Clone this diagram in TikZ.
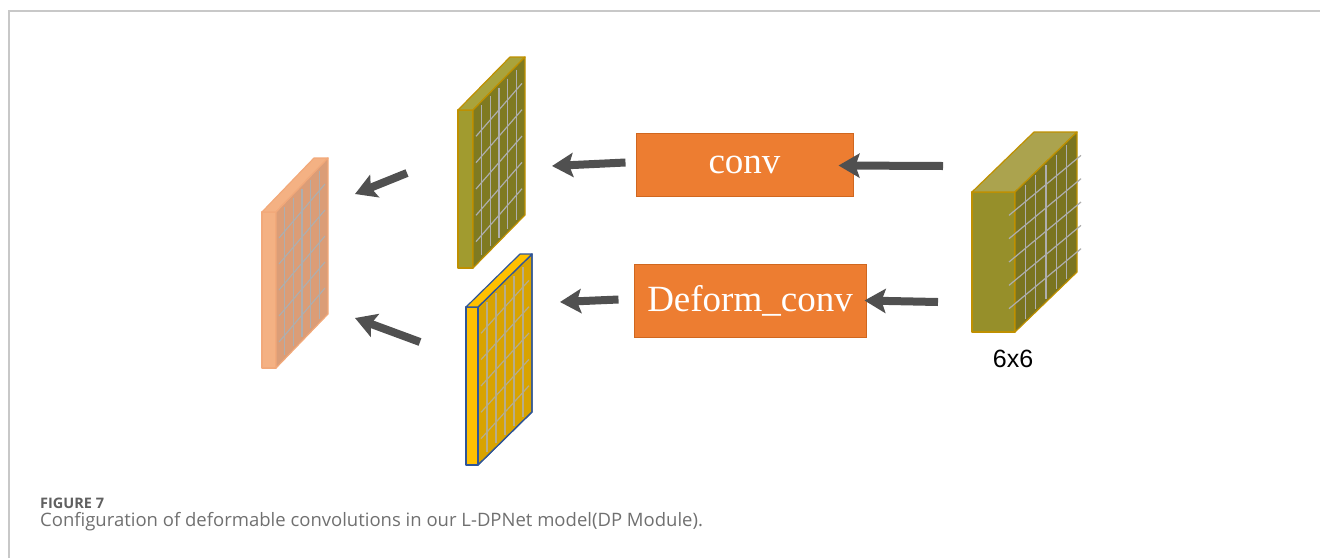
\documentclass[tikz,border=0pt]{standalone}
\usepackage{fontspec}
\setmainfont{Liberation Serif}
\newfontfamily\arialfont{Liberation Sans}
\newfontfamily\capfont{Open Sans}
\usetikzlibrary{arrows.meta,calc}
\definecolor{framegray}{HTML}{C8C8C8}
\definecolor{arrowgray}{HTML}{505050}
\definecolor{boxorange}{HTML}{ED7D31}
\definecolor{boxborder}{HTML}{D0671F}
\definecolor{gridgray}{HTML}{AEAEAE}
\definecolor{pinkstrip}{HTML}{F4B183}
\definecolor{pinkface}{HTML}{DB9D77}
\definecolor{pinkedge}{HTML}{F2A97A}
\definecolor{olstrip}{HTML}{A19B2F}
\definecolor{oltop}{HTML}{A9A33C}
\definecolor{olface}{HTML}{7F7A21}
\definecolor{goldedge}{HTML}{BF9000}
\definecolor{yelstrip}{HTML}{FFC000}
\definecolor{yelface}{HTML}{D8A300}
\definecolor{blueedge}{HTML}{2F5597}
\definecolor{blkfront}{HTML}{968F2A}
\definecolor{blktop}{HTML}{ABA34E}
\definecolor{blkface}{HTML}{7A7420}
\definecolor{capgray}{HTML}{606060}
\definecolor{capgray2}{HTML}{707070}
\tikzset{
  framestyle/.style={draw=framegray,line width=1.5pt},
  bigarrow/.style={draw=arrowgray,line width=8pt,-{Stealth[length=21pt,width=24pt,inset=4pt]}},
  opbox/.style={draw=boxborder,line width=1pt,fill=boxorange,text=white,inner sep=0pt,font=\fontsize{37}{40}\selectfont},
  gridline/.style={draw=gridgray,line width=1.2pt},
  slabedge/.style={line width=1.2pt,line join=round}
}
\begin{document}
\begin{tikzpicture}[x=1pt,y=-1pt]
\useasboundingbox (0,0) rectangle (1320,558);
% frame
\coordinate (f1) at (9,558);
\coordinate (f2) at (9,11);
\coordinate (f3) at (1320,11);
\draw[framestyle] (f1) -- (f2) -- (f3);

% ---------- pink slab ----------
\coordinate (pS1) at (262,212);
\coordinate (pA) at (276,212);
\coordinate (pB) at (328,158);
\coordinate (pC) at (328,314);
\coordinate (pD) at (276,368);
\coordinate (pS2) at (262,368);
\coordinate (pT) at (314,158);
\draw[slabedge,draw=pinkedge,fill=pinkstrip] (pS1) -- (pA) -- (pD) -- (pS2) -- cycle;
\draw[slabedge,draw=pinkedge,fill=pinkstrip] (pS1) -- (pT) -- (pB) -- (pA) -- cycle;
\draw[slabedge,draw=pinkedge,fill=pinkface] (pA) -- (pB) -- (pC) -- (pD) -- cycle;
\foreach \i in {1,...,5}{
  \draw[gridline] ($(pA)!\i/6!(pB)+(0,4)$) -- ($(pD)!\i/6!(pC)+(0,-4)$);
  \draw[gridline] ($(pA)!\i/6!(pD)+(3,0)$) -- ($(pB)!\i/6!(pC)+(-3,0)$);
}

% ---------- olive slab (top) ----------
\coordinate (oS1) at (458,110);
\coordinate (oA) at (473,110);
\coordinate (oB) at (525,57);
\coordinate (oC) at (525,215);
\coordinate (oD) at (473,268);
\coordinate (oS2) at (458,268);
\coordinate (oT) at (510,57);
\draw[slabedge,draw=goldedge,fill=olstrip] (oS1) -- (oA) -- (oD) -- (oS2) -- cycle;
\draw[slabedge,draw=goldedge,fill=oltop] (oS1) -- (oT) -- (oB) -- (oA) -- cycle;
\draw[slabedge,draw=goldedge,fill=olface] (oA) -- (oB) -- (oC) -- (oD) -- cycle;
\foreach \i in {1,...,5}{
  \draw[gridline] ($(oA)!\i/6!(oB)+(0,4)$) -- ($(oD)!\i/6!(oC)+(0,-4)$);
  \draw[gridline] ($(oA)!\i/6!(oD)+(3,0)$) -- ($(oB)!\i/6!(oC)+(-3,0)$);
}

% ---------- yellow slab ----------
\coordinate (yS1) at (466,307);
\coordinate (yA) at (478,307);
\coordinate (yB) at (532,254);
\coordinate (yC) at (532,412);
\coordinate (yD) at (478,465);
\coordinate (yS2) at (466,465);
\coordinate (yT) at (520,254);
\draw[slabedge,draw=blueedge,fill=yelface] (yA) -- (yB) -- (yC) -- (yD) -- cycle;
\foreach \i in {1,...,5}{
  \draw[gridline,draw=gridgray!80!yelface] ($(yA)!\i/6!(yB)+(0,4)$) -- ($(yD)!\i/6!(yC)+(0,-4)$);
  \draw[gridline,draw=gridgray!80!yelface] ($(yA)!\i/6!(yD)+(3,0)$) -- ($(yB)!\i/6!(yC)+(-3,0)$);
}
\draw[slabedge,draw=blueedge] (yA) -- (yB) -- (yC) -- (yD) -- cycle;
\draw[slabedge,draw=blueedge,fill=yelstrip] (yS1) -- (yA) -- (yD) -- (yS2) -- cycle;
\draw[slabedge,draw=blueedge,fill=yelstrip] (yS1) -- (yT) -- (yB) -- (yA) -- cycle;

% ---------- input block ----------
\coordinate (bF1) at (972,192);
\coordinate (bA) at (1015,192);
\coordinate (bB) at (1077,132);
\coordinate (bC) at (1077,272);
\coordinate (bD) at (1015,332);
\coordinate (bF2) at (972,332);
\coordinate (bT) at (1034,132);
\draw[slabedge,draw=goldedge,fill=blkfront] (bF1) -- (bA) -- (bD) -- (bF2) -- cycle;
\draw[slabedge,draw=goldedge,fill=blktop] (bF1) -- (bT) -- (bB) -- (bA) -- cycle;
\draw[slabedge,draw=goldedge,fill=blkface] (bA) -- (bB) -- (bC) -- (bD) -- cycle;
\foreach \i in {1,...,5}{
  \draw[gridline] ($(bA)!\i/6!(bB)+(0,3)$) -- ($(bD)!\i/6!(bC)+(0,-3)$);
  \draw[gridline] ($(bA)!\i/6!(bD)+(-6,0)$) -- ($(bB)!\i/6!(bC)+(4,0)$);
}
\node[font=\arialfont\fontsize{25}{27}\selectfont,anchor=base] (size) at (1013,367) {6x6};

% ---------- operation boxes ----------
\node[opbox,minimum width=217pt,minimum height=63pt] (conv) at (744.5,164.5) {conv};
\node[opbox,minimum width=232pt,minimum height=73pt] (dconv) at (750,300.5) {Deform\_conv};

% ---------- arrows ----------
\coordinate (a1s) at (943,166);
\coordinate (a2s) at (938,302);
\coordinate (a3e) at (552,166);
\coordinate (a4e) at (560,302);
\coordinate (a5s) at (407,173);
\coordinate (a5e) at (355,194);
\coordinate (a6s) at (420,342);
\coordinate (a6e) at (355,318);
\draw[bigarrow] (a1s) -- ([xshift=-15pt,yshift=-1pt]conv.east);
\draw[bigarrow] (a2s) -- ([xshift=-2pt]dconv.east);
\draw[bigarrow] ([xshift=-10pt,yshift=2pt]conv.west) -- (a3e);
\draw[bigarrow] ([xshift=-15pt,yshift=1pt]dconv.west) -- (a4e);
\draw[bigarrow] (a5s) -- (a5e);
\draw[bigarrow] (a6s) -- (a6e);

% ---------- caption ----------
\node[anchor=base west,inner sep=0pt,text=capgray,font=\capfont\bfseries\fontsize{14.5}{16}\selectfont] (fig) at (40,508) {FIGURE 7};
\node[anchor=base west,inner sep=0pt,text=capgray2,font=\capfont\fontsize{18.5}{20}\selectfont] (cap) at (40,526) {Configuration of deformable convolutions in our L-DPNet model(DP Module).};
\end{tikzpicture}
\end{document}
